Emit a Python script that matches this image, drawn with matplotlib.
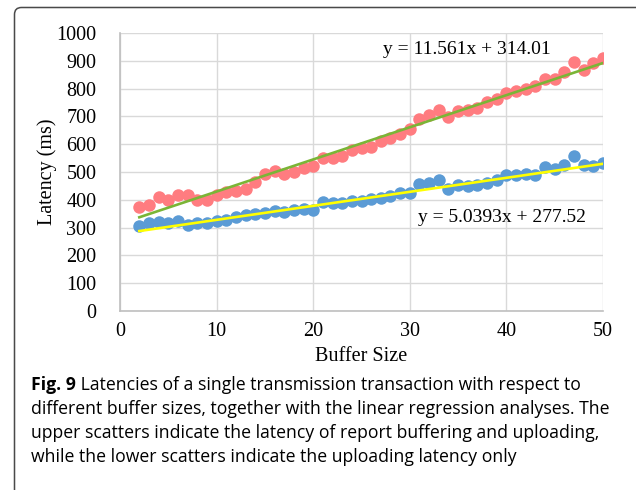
import matplotlib
matplotlib.use("Agg")
import matplotlib.pyplot as plt
import numpy as np
from matplotlib.patches import FancyBboxPatch

# ---- data ----
buffer_size = [2, 3, 4, 5, 6, 7, 8, 9, 10, 11, 12, 13, 14, 15, 16, 17, 18, 19, 20,
               21, 22, 23, 24, 25, 26, 27, 28, 29, 30, 31, 32, 33, 34, 35, 36, 37,
               38, 39, 40, 41, 42, 43, 44, 45, 46, 47, 48, 49, 50]
latency_upper = [373, 382, 409, 400, 416, 418, 400, 400, 418, 428, 431, 440, 465, 492,
                 504, 492, 500, 516, 522, 552, 551, 558, 580, 585, 591, 610, 621, 636,
                 653, 689, 706, 722, 697, 719, 724, 731, 751, 761, 784, 790, 797, 808,
                 836, 833, 858, 894, 867, 893, 909]
latency_lower = [306, 316, 321, 316, 322, 309, 318, 318, 324, 327, 339, 345, 349, 352,
                 358, 355, 363, 366, 364, 393, 390, 388, 397, 395, 404, 406, 412, 424,
                 424, 456, 461, 472, 440, 452, 449, 452, 460, 472, 488, 488, 492, 488,
                 517, 510, 525, 557, 524, 521, 533]
fit_upper = (11.561, 314.01)
fit_lower = (5.0393, 277.52)
eq_upper = "y = 11.561x + 314.01"
eq_lower = "y = 5.0393x + 277.52"
x_ticks = [0, 10, 20, 30, 40, 50]
y_ticks = [0, 100, 200, 300, 400, 500, 600, 700, 800, 900, 1000]
caption_bold = "Fig. 9"
caption_lines = [
    " Latencies of a single transmission transaction with respect to",
    "different buffer sizes, together with the linear regression analyses. The",
    "upper scatters indicate the latency of report buffering and uploading,",
    "while the lower scatters indicate the uploading latency only",
]

W, H = 636, 490
fig = plt.figure(figsize=(W / 100, H / 100), dpi=100)
fig.patch.set_facecolor("white")

# rounded frame (left + top visible)
frame = FancyBboxPatch((14.5 / 100, -1.0), 8.0, (H - 7.5) / 100 + 1.0,
                       boxstyle="round,pad=0,rounding_size=0.07",
                       transform=fig.dpi_scale_trans, fill=False,
                       edgecolor="#4a4a4a", linewidth=1.1, clip_on=False)
fig.patches.append(frame)

ax = fig.add_axes([120 / W, 1 - 311 / H, (603 - 120) / W, (311 - 33) / H])
serif = "Liberation Serif"

xs = np.array(buffer_size)
ax.plot(xs, latency_upper, "o", color="#FF7C80", markersize=9, markeredgewidth=0, zorder=3)
ax.plot(xs, latency_lower, "o", color="#5B9BD5", markersize=9, markeredgewidth=0, zorder=3)
ax.plot(xs, fit_upper[0] * xs + fit_upper[1], color="#7AB536", linewidth=1.9, zorder=4)
ax.plot(xs, fit_lower[0] * xs + fit_lower[1], color="#FFFF00", linewidth=1.9, zorder=4)

ax.set_xlim(0, 50)
ax.set_ylim(0, 1000)
ax.set_xticks(x_ticks)
ax.set_yticks(y_ticks)
ax.set_xticklabels([str(t) for t in x_ticks], fontfamily=serif, fontsize=14.5)
ax.set_yticklabels([str(t) for t in y_ticks], fontfamily=serif, fontsize=14.5)
ax.tick_params(axis="y", length=0, pad=17)
ax.tick_params(axis="x", length=0, pad=8)
ax.grid(True, color="#d9d9d9", linewidth=1.0, zorder=0)
ax.set_axisbelow(True)
for s in ["top", "right"]:
    ax.spines[s].set_visible(False)
for s in ["left", "bottom"]:
    ax.spines[s].set_color("#bfbfbf")
    ax.spines[s].set_linewidth(1.2)

ax.set_xlabel("Buffer Size", fontfamily=serif, fontsize=14.5, labelpad=4)
ax.set_ylabel("Latency (ms)", fontfamily=serif, fontsize=14.5, va="center")
ax.yaxis.set_label_coords((47 - 120) / 483, 0.5)

ax.text(35.9, 939, eq_upper, fontfamily=serif, fontsize=14, ha="center", va="center")
ax.text(39.5, 338, eq_lower, fontfamily=serif, fontsize=14, ha="center", va="center")

# caption
cap_font = "Open Sans"
cap_size = 12.7
x0 = 31 / W
ys = [385, 409, 433, 457]
renderer = fig.canvas.get_renderer()
tb = fig.text(x0, 1 - ys[0] / H, caption_bold, fontfamily=cap_font, fontweight="bold",
              fontsize=cap_size, va="center", ha="left")
bb = tb.get_window_extent(renderer=renderer)
fig.text(bb.x1 / W, 1 - ys[0] / H, caption_lines[0], fontfamily=cap_font,
         fontsize=cap_size, va="center", ha="left")
for line, yy in zip(caption_lines[1:], ys[1:]):
    fig.text(x0, 1 - yy / H, line, fontfamily=cap_font, fontsize=cap_size,
             va="center", ha="left")

fig.savefig("out.png", dpi=100)
